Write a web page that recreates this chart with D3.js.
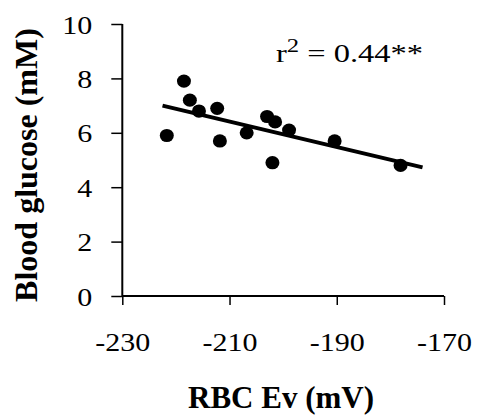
<!DOCTYPE html>
<html lang="en">
<head>
<meta charset="utf-8">
<script src="https://d3js.org/d3.v7.min.js"></script>
<style>
  body { margin: 0; background: #fff; }
  svg text { font-family: "Liberation Serif", "Times New Roman", serif; fill: #000; }
</style>
</head>
<body>
<svg class="chart"></svg>
<script>
var width = 477,
    height = 416;

// readings
var rbcEv   = [-221.7, -218.5, -217.4, -215.7, -212.3, -211.8, -206.8, -203.0, -201.5, -202.0, -198.9, -190.4, -178.1];
var glucose = [5.9, 7.9, 7.2, 6.8, 6.9, 5.7, 6.0, 6.6, 6.4, 4.9, 6.1, 5.7, 4.8];
var fitX = [-222.5, -174];
var fitY = [7.0, 4.73];
var xTicks = [-230, -210, -190, -170];
var yTicks = [0, 2, 4, 6, 8, 10];

var svg = d3.select(".chart")
    .attr("width", width)
    .attr("height", height);

var x = d3.scaleLinear().domain([-230, -170]).range([122.3, 444]);
var y = d3.scaleLinear().domain([0, 10]).range([296, 24]);

var stretch = 1.2;

// y axis
var yAxis = svg.append("g")
    .attr("transform", "translate(" + x(-230) + ",0)")
    .call(d3.axisLeft(y).tickValues(yTicks).tickSize(11).tickFormat(d3.format("d")));
yAxis.select(".domain").attr("d", "M0," + y(0) + "V" + y(10)).attr("stroke-width", 2);
yAxis.selectAll(".tick line").attr("stroke-width", 1.5);
yAxis.selectAll(".tick text")
    .attr("font-size", 25)
    .attr("x", -30 / stretch)
    .attr("dy", null)
    .attr("y", 9)
    .attr("transform", "scale(" + stretch + ",1)");

// x axis
var xAxis = svg.append("g")
    .attr("transform", "translate(0," + y(0) + ")")
    .call(d3.axisBottom(x).tickValues(xTicks).tickSize(9).tickFormat(d3.format("d")));
xAxis.select(".domain").attr("d", "M" + x(-230) + ",0H" + x(-170)).attr("stroke-width", 2);
xAxis.selectAll(".tick line").attr("stroke-width", 1.5);
xAxis.selectAll(".tick text")
    .attr("font-size", 25)
    .attr("dy", null)
    .attr("y", 55)
    .attr("transform", "scale(" + stretch + ",1)")
    .text(function(d) { return "-" + Math.abs(d); });
yAxis.selectAll(".domain, .tick line").attr("stroke", "#000");
xAxis.selectAll(".domain, .tick line").attr("stroke", "#000");

// regression line
svg.append("line")
    .attr("x1", x(fitX[0])).attr("y1", y(fitY[0]))
    .attr("x2", x(fitX[1])).attr("y2", y(fitY[1]))
    .attr("stroke", "#000")
    .attr("stroke-width", 4);

// points
svg.selectAll("ellipse.pt")
    .data(rbcEv)
    .enter()
    .append("ellipse")
        .attr("class", "pt")
        .attr("cx", function(d) { return x(d); })
        .attr("cy", function(d, i) { return y(glucose[i]); })
        .attr("rx", 7)
        .attr("ry", 6.6)
        .attr("fill", "#000");

// r squared
var r2 = svg.append("text")
    .attr("transform", "translate(276,62) scale(1.3,1)")
    .attr("font-size", 25);
r2.append("tspan").text("r");
r2.append("tspan").attr("font-size", 19).attr("dy", -10).text("2");
r2.append("tspan").attr("dy", 10).text(" = 0.44**");

// axis titles
svg.append("text")
    .attr("x", 281)
    .attr("y", 408)
    .attr("text-anchor", "middle")
    .attr("font-size", 31)
    .attr("font-weight", "bold")
    .text("RBC Ev (mV)");

svg.append("text")
    .attr("transform", "translate(37,165) rotate(-90)")
    .attr("text-anchor", "middle")
    .attr("font-size", 32)
    .attr("font-weight", "bold")
    .text("Blood glucose (mM)");
</script>
</body>
</html>
